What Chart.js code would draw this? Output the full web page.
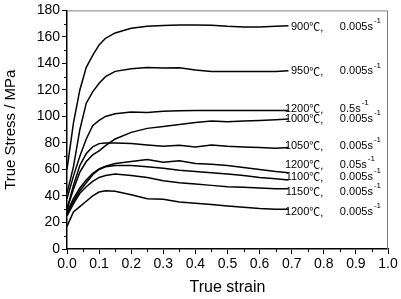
<!DOCTYPE html>
<html>
<head>
<meta charset="utf-8">
<script src="https://cdn.jsdelivr.net/npm/chart.js@4.4.0/dist/chart.umd.min.js"></script>
<style>
html, body { margin: 0; padding: 0; background: #fff; }
</style>
</head>
<body>
<canvas id="c" width="401" height="299"></canvas>
<script>
// true strain (shared by all curves)
const strain = [0, 0.02, 0.04, 0.06, 0.08, 0.1, 0.12, 0.15, 0.2, 0.25, 0.3, 0.35, 0.4, 0.45, 0.5, 0.55, 0.6, 0.65, 0.69];

// true stress, MPa
const s900_005   = [60, 95, 120, 137, 146, 154, 159, 163, 166.5, 168, 168.7, 169, 169, 168.8, 168, 167.5, 167.5, 168, 168.5];
const s950_005   = [42, 62, 90, 110, 118.5, 125, 130, 134, 136, 137, 136.5, 136.8, 135, 134, 134, 134, 134, 134, 134.5];
const s1200_5    = [38, 55, 70, 83, 93, 97, 100, 102, 103.3, 103, 104, 104.3, 104.5, 104.5, 104.5, 104.5, 104.5, 104.5, 104.5];
const s1000_005  = [30, 45, 58, 66, 71, 74, 78, 83, 88, 91, 92.5, 94, 95.5, 96.5, 96, 96.5, 97, 97.5, 98];
const s1050_005  = [30, 48, 63, 72, 77, 79.5, 80, 80, 79.5, 78.5, 77.5, 78.3, 77, 78.5, 77.5, 77, 76.5, 76, 76.5];
const s1200_05   = [28, 38, 46, 52, 57, 60.5, 62.5, 64.5, 66, 67.5, 65.5, 66.5, 64.5, 64, 63, 61.5, 60, 58.5, 57.5];
const s1100_005  = [26, 36, 44, 50, 56, 60, 62, 63, 63, 62, 61, 59.5, 58.5, 57.5, 56.5, 55.5, 54, 53, 52];
const s1150_005  = [25, 34, 42, 47, 51, 54, 55.5, 56.5, 55.5, 54, 51.5, 50, 49, 48, 47, 46.5, 46, 45.5, 45.5];
const s1200_005  = [17, 28, 32, 36, 40, 43, 44, 43.5, 41, 38, 37.5, 35.5, 34.5, 33.5, 32.5, 31.5, 30.5, 30, 30];

const series = [s900_005, s950_005, s1200_5, s1000_005, s1050_005, s1200_05, s1100_005, s1150_005, s1200_005];

// curve labels at the right
const temps = ["900", "950", "1200", "1000", "1050", "1200", "1100", "1150", "1200"];
const rates = ["0.005s", "0.005s", "0.5s", "0.005s", "0.005s", "0.05s", "0.005s", "0.005s", "0.005s"];
const labelStress = [167.4, 134, 105.9, 98.4, 77.8, 63.3, 54.4, 43, 28.1];

const yTicks = [0, 20, 40, 60, 80, 100, 120, 140, 160, 180];

Chart.defaults.font.family = 'Arial, "Liberation Sans", sans-serif';
Chart.defaults.color = '#000';

const extras = {
  id: 'extras',
  afterDraw(chart) {
    const { ctx, chartArea: a, scales: { x, y } } = chart;
    ctx.save();
    // grey frame on top and right
    ctx.strokeStyle = '#808080';
    ctx.lineWidth = 1;
    ctx.beginPath();
    ctx.moveTo(a.left, a.top + 0.5);
    ctx.lineTo(a.right - 0.5, a.top + 0.5);
    ctx.lineTo(a.right - 0.5, a.bottom);
    ctx.stroke();

    // minor ticks
    ctx.strokeStyle = '#000';
    ctx.beginPath();
    for (let v = 10; v < 180; v += 20) {
      const py = Math.round(y.getPixelForValue(v)) + 0.5;
      ctx.moveTo(a.left - 3, py);
      ctx.lineTo(a.left, py);
    }
    for (let i = 1; i < 20; i += 2) {
      const px = Math.round(x.getPixelForValue(i * 0.05)) + 0.5;
      ctx.moveTo(px, a.bottom);
      ctx.lineTo(px, a.bottom + 3);
    }
    ctx.stroke();

    // curve labels
    ctx.fillStyle = '#000';
    ctx.textBaseline = 'middle';
    const tx = x.getPixelForValue(0.755);
    const rx = x.getPixelForValue(0.85);
    temps.forEach((t, i) => {
      const py = y.getPixelForValue(labelStress[i]);
      ctx.font = '11px Arial, "Liberation Sans"';
      ctx.textAlign = 'right';
      ctx.fillText(t, tx, py);
      ctx.textAlign = 'left';
      ctx.fillText(',', tx + 11, py + 1);
      ctx.fillText(rates[i], rx, py);
      const w = ctx.measureText(rates[i]).width;
      ctx.font = '11px "Noto Sans CJK SC", "DejaVu Sans"';
      ctx.fillText('\u2103', tx, py);
      ctx.font = '8px Arial, "Liberation Sans"';
      ctx.fillText('-1', rx + w + 1, py - 6);
    });
    ctx.restore();
  }
};

new Chart(document.getElementById('c'), {
  type: 'line',
  data: {
    datasets: series.map(s => ({
      data: strain.map((e, i) => ({ x: e, y: s[i] })),
      borderColor: '#000',
      borderWidth: 1.5,
      pointRadius: 0,
      tension: 0,
      fill: false
    }))
  },
  options: {
    responsive: false,
    animation: false,
    devicePixelRatio: 1,
    layout: { padding: { top: 10, right: 13, left: 0, bottom: 0 } },
    plugins: { legend: { display: false }, tooltip: { enabled: false } },
    scales: {
      x: {
        type: 'linear',
        min: 0,
        max: 1,
        afterFit(scale) { scale.height = 50; },
        ticks: {
          stepSize: 0.1,
          padding: 2,
          font: { size: 14 },
          color: '#000',
          callback: v => v.toFixed(1)
        },
        grid: { drawOnChartArea: false, drawTicks: true, tickLength: 5, color: '#000' },
        border: { color: '#000', width: 1.5 },
        title: { display: true, text: 'True strain', font: { size: 16 }, color: '#000', padding: { top: 0, bottom: 2 } }
      },
      y: {
        type: 'linear',
        min: 0,
        max: 180,
        afterFit(scale) { scale.width = 67; },
        afterBuildTicks(scale) { scale.ticks = yTicks.map(v => ({ value: v })); },
        ticks: { padding: 2, font: { size: 14 }, color: '#000' },
        grid: { drawOnChartArea: false, drawTicks: true, tickLength: 5, color: '#000' },
        border: { color: '#000', width: 1.5 },
        title: { display: true, text: 'True Stress / MPa', font: { size: 15 }, color: '#000', padding: { top: 2, bottom: 0 } }
      }
    }
  },
  plugins: [extras]
});
</script>
</body>
</html>
